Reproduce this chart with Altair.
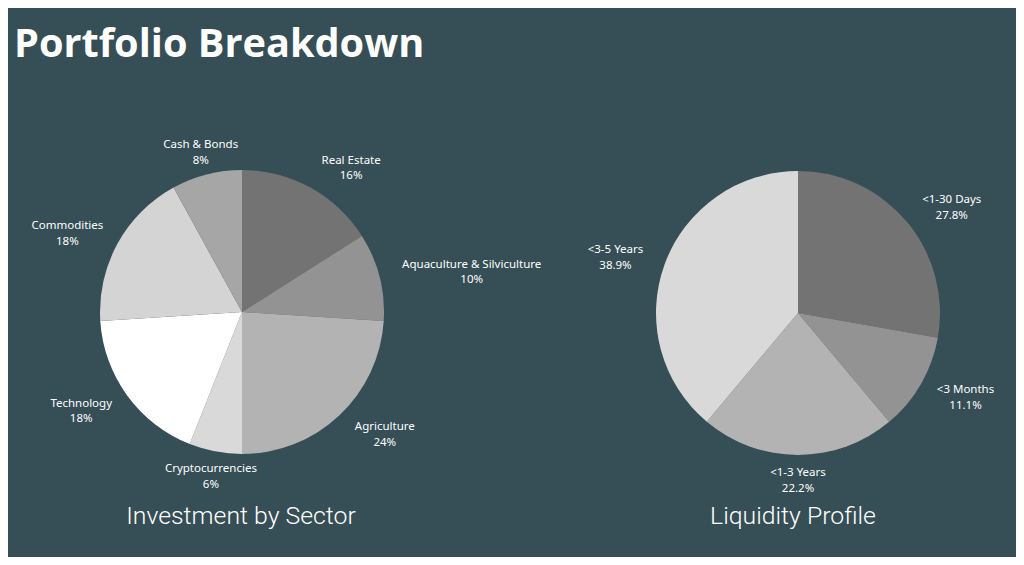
import altair as alt
import pandas as pd

# ---- data ----
title_text = "Portfolio Breakdown"
sector_title = "Investment by Sector"
liq_title = "Liquidity Profile"

sector_names = ["Real Estate", "Aquaculture & Silviculture", "Agriculture",
                "Cryptocurrencies", "Technology", "Commodities", "Cash & Bonds"]
sector_values = [16, 10, 24, 6, 18, 18, 8]
sector_colors = ["#737373", "#939393", "#b3b3b3", "#d9d9d9", "#ffffff", "#d4d4d4", "#a6a6a6"]

liq_names = ["<1-30 Days", "<3 Months", "<1-3 Years", "<3-5 Years"]
liq_values = [27.8, 11.1, 22.2, 38.9]
liq_colors = ["#737373", "#939393", "#b3b3b3", "#d9d9d9"]

BG = "#364e55"
FONT = "Noto Sans"
R = 142


def make_df(names, values, fmt):
    return pd.DataFrame({
        "idx": list(range(len(names))),
        "name": names,
        "value": values,
        "pct": [fmt.format(v) for v in values],
    })


def pie(df, colors, cx, cy):
    base = alt.Chart(df)
    arc = base.mark_arc(radius=R, strokeWidth=0).encode(
        theta=alt.Theta("value:Q", stack=True),
        order=alt.Order("idx:Q"),
        color=alt.Color("name:N", scale=alt.Scale(domain=list(df["name"]), range=colors), legend=None),
        x=alt.value(cx),
        y=alt.value(cy),
    )
    # labels: anchor outside the slice mid-angle, text box pushed sideways on the flanks
    labels = base.transform_joinaggregate(
        total="sum(value)"
    ).transform_window(
        cum="sum(value)", sort=[alt.SortField("idx")], frame=[None, 0]
    ).transform_calculate(
        mid="(datum.cum - datum.value/2) / datum.total * 2 * PI",
        hw="2.65 * max(length(datum.name), length(datum.pct))",
        ramp="clamp((abs(sin(datum.mid)) - 0.25) / 0.23, 0, 1)",
        px="166*sin(datum.mid) + (sin(datum.mid) < 0 ? -1 : 1) * datum.hw * datum.ramp",
        py="-166*cos(datum.mid)",
        ta="atan2(datum.px, -datum.py)",
        lr="sqrt(datum.px*datum.px + datum.py*datum.py)",
        label="datum.name + '\\n' + datum.pct",
    ).mark_text(
        font=FONT, fontSize=11.5, color="#ffffff", align="center", baseline="middle",
        lineBreak="\n", lineHeight=15.5, dy=-6,
    ).encode(
        theta=alt.Theta("ta:Q", scale=None, stack=None),
        radius=alt.Radius("lr:Q", scale=None),
        text="label:N",
        x=alt.value(cx),
        y=alt.value(cy),
    )
    return arc, labels


sector_df = make_df(sector_names, sector_values, "{:.0f}%")
liq_df = make_df(liq_names, liq_values, "{:.1f}%")

s_arc, s_lab = pie(sector_df, sector_colors, 234, 304)
l_arc, l_lab = pie(liq_df, liq_colors, 790, 305)

title = alt.Chart(pd.DataFrame({"t": [title_text]})).mark_text(
    font="Open Sans", fontSize=39.7, fontWeight="bold", color="#ffffff",
    align="left", baseline="alphabetic",
).encode(text="t:N", x=alt.value(6), y=alt.value(49))

sub1 = alt.Chart(pd.DataFrame({"t": [sector_title]})).mark_text(
    font="Roboto", fontSize=24.8, fontWeight=300, color="#ffffff",
    align="center", baseline="alphabetic",
).encode(text="t:N", x=alt.value(233), y=alt.value(516))

sub2 = alt.Chart(pd.DataFrame({"t": [liq_title]})).mark_text(
    font="Roboto", fontSize=24.8, fontWeight=300, color="#ffffff",
    align="center", baseline="alphabetic",
).encode(text="t:N", x=alt.value(785), y=alt.value(516))

chart = alt.layer(s_arc, s_lab, l_arc, l_lab, title, sub1, sub2).resolve_scale(
    theta="independent", color="independent", radius="independent"
).properties(
    width=1008, height=549, background=BG, padding=0, autosize="none"
).configure_view(stroke=None)

chart.save("out.html", embed_options={"renderer": "svg", "actions": False})
